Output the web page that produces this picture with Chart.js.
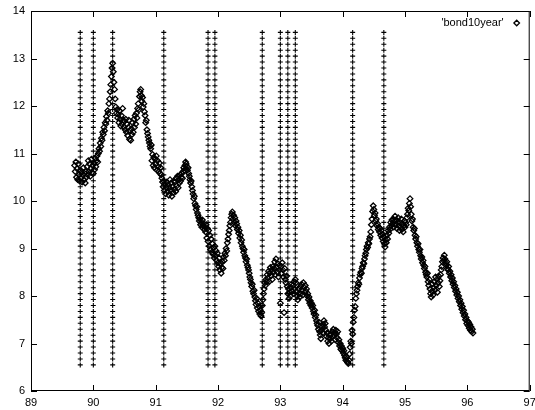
<!DOCTYPE html>
<html>
<head>
<meta charset="utf-8">
<script src="https://cdn.jsdelivr.net/npm/chart.js@4/dist/chart.umd.min.js"></script>
<style>
  html, body { margin: 0; padding: 0; background: #fff; }
  canvas { display: block; }
</style>
</head>
<body>
<canvas id="chart" width="535" height="410"></canvas>
<script>
// axis ticks
const xTicks = [89, 90, 91, 92, 93, 94, 95, 96, 97];
const yTicks = [6, 7, 8, 9, 10, 11, 12, 13, 14];

// dates of the vertical "+" marker columns, and the levels each column is drawn at
const eventDates = [89.79, 90.0, 90.31, 91.13, 91.84, 91.95, 92.71, 93.0, 93.12, 93.24, 94.16, 94.66];
const markerLevels = [6.55, 6.675, 6.8, 6.925, 7.05, 7.175, 7.3, 7.425, 7.55, 7.675, 7.8, 7.925,
  8.05, 8.175, 8.3, 8.425, 8.55, 8.675, 8.8, 8.925, 9.05, 9.175, 9.3, 9.425, 9.55, 9.675, 9.8, 9.925,
  10.05, 10.175, 10.3, 10.425, 10.55, 10.675, 10.8, 10.925, 11.05, 11.175, 11.3, 11.425, 11.55, 11.675,
  11.8, 11.925, 12.05, 12.175, 12.3, 12.425, 12.55, 12.675, 12.8, 12.925, 13.05, 13.175, 13.3, 13.425, 13.55];

// 'bond10year': one reading every 0.01 year from 89.70 (one row = 0.1 year)
const bondStart = 89.70;
const bondStep = 0.01;
const bondYields = [
  10.75,10.62,10.82,10.50,10.68,10.45,10.78,10.55,10.42,10.65,
  10.48,10.60,10.40,10.55,10.70,10.45,10.58,10.38,10.62,10.50,
  10.72,10.55,10.85,10.62,10.78,10.52,10.68,10.88,10.60,10.75,
  10.58,10.80,10.66,10.90,10.72,10.85,10.95,10.82,11.00,11.10,
  11.05,11.22,11.15,11.32,11.28,11.45,11.40,11.55,11.48,11.65,
  11.62,11.78,11.70,11.90,11.85,12.05,12.15,12.30,12.45,12.62,
  12.80,12.90,12.72,12.50,12.35,12.15,11.98,11.85,11.92,11.75,
  11.82,11.65,11.90,11.72,11.58,11.80,11.62,11.95,11.70,11.56,
  11.68,11.50,11.72,11.45,11.62,11.38,11.55,11.70,11.30,11.48,
  11.28,11.52,11.40,11.65,11.45,11.72,11.55,11.80,11.62,11.85,
  11.75,11.95,12.05,11.92,12.20,12.30,12.35,12.22,12.10,12.18,
  11.98,12.05,11.88,11.80,11.65,11.70,11.50,11.42,11.35,11.28,
  11.22,11.15,11.10,11.18,10.85,10.98,10.75,10.92,10.70,10.88,
  10.78,10.95,10.65,10.85,10.72,10.62,10.80,10.58,10.70,10.55,
  10.48,10.40,10.30,10.42,10.22,10.35,10.15,10.28,10.40,10.20,
  10.35,10.12,10.28,10.45,10.22,10.38,10.10,10.30,10.18,10.42,
  10.25,10.40,10.20,10.48,10.32,10.52,10.28,10.45,10.38,10.55,
  10.42,10.50,10.58,10.48,10.62,10.70,10.65,10.75,10.82,10.78,
  10.72,10.65,10.70,10.58,10.52,10.45,10.38,10.42,10.30,10.22,
  10.15,10.05,10.10,9.95,9.90,9.82,9.88,9.75,9.70,9.65,
  9.58,9.62,9.50,9.55,9.45,9.60,9.48,9.52,9.40,9.45,
  9.35,9.50,9.22,9.42,9.15,9.38,9.05,9.28,8.98,9.20,
  8.92,9.10,8.88,9.02,8.80,9.05,8.85,8.95,8.75,8.90,
  8.70,8.62,8.80,8.55,8.68,8.48,8.60,8.72,8.58,8.82,
  8.75,8.90,8.85,9.00,8.95,9.12,9.20,9.30,9.38,9.48,
  9.55,9.65,9.72,9.77,9.62,9.70,9.55,9.65,9.48,9.58,
  9.52,9.40,9.45,9.32,9.38,9.22,9.28,9.12,9.18,9.05,
  9.00,8.92,8.98,8.85,8.80,8.72,8.78,8.65,8.60,8.55,
  8.48,8.40,8.35,8.28,8.20,8.25,8.10,8.05,8.12,7.98,
  7.90,7.82,7.95,7.75,7.85,7.68,7.78,7.62,7.70,7.58,
  7.65,7.80,7.92,8.05,8.15,8.28,8.22,8.35,8.30,8.45,
  8.38,8.52,8.30,8.48,8.60,8.42,8.55,8.35,8.62,8.50,
  8.58,8.72,8.45,8.78,8.60,8.50,8.68,8.40,8.55,8.65,
  7.85,8.62,8.48,8.70,8.55,8.40,7.65,8.58,8.35,8.28,
  8.42,8.20,8.05,8.15,7.95,8.08,8.00,8.18,8.25,8.10,
  8.22,8.05,8.30,8.15,8.35,8.28,8.10,8.00,7.92,8.05,
  8.15,7.98,8.20,8.05,8.25,8.12,8.02,8.28,8.18,8.08,
  8.22,8.10,8.15,8.00,8.05,7.92,7.98,7.85,7.90,7.80,
  7.85,7.75,7.80,7.68,7.62,7.70,7.55,7.60,7.48,7.42,
  7.38,7.30,7.45,7.25,7.18,7.10,7.28,7.35,7.22,7.40,
  7.48,7.35,7.42,7.28,7.15,7.22,7.05,7.12,7.00,7.18,
  7.10,7.20,7.05,7.25,7.15,7.30,7.18,7.22,7.08,7.28,
  7.20,7.12,7.25,7.02,7.08,6.95,7.00,6.88,6.95,6.85,
  6.90,6.80,6.85,6.75,6.70,6.65,6.72,6.62,6.60,6.58,
  6.65,6.78,6.92,7.05,7.00,7.28,7.20,7.45,7.55,7.70,
  7.78,7.95,8.05,8.12,8.20,8.28,8.25,8.38,8.45,8.50,
  8.48,8.58,8.62,8.70,8.68,8.78,8.85,8.90,8.98,9.05,
  9.02,9.12,9.10,9.20,9.25,9.35,9.50,9.62,9.78,9.90,
  9.82,9.70,9.75,9.58,9.62,9.48,9.52,9.40,9.45,9.35,
  9.42,9.28,9.38,9.22,9.30,9.15,9.25,9.10,9.03,9.18,
  9.12,9.28,9.20,9.38,9.32,9.45,9.40,9.55,9.48,9.60,
  9.52,9.62,9.45,9.58,9.68,9.50,9.60,9.42,9.55,9.65,
  9.48,9.38,9.55,9.45,9.62,9.40,9.52,9.35,9.48,9.58,
  9.45,9.55,9.50,9.65,9.72,9.85,9.80,9.95,10.05,9.88,
  9.72,9.58,9.62,9.45,9.38,9.42,9.28,9.20,9.25,9.12,
  9.05,9.10,8.98,8.92,8.98,8.85,8.78,8.82,8.70,8.75,
  8.65,8.58,8.62,8.50,8.45,8.40,8.48,8.30,8.22,8.35,
  8.15,8.05,7.98,8.10,8.25,8.02,8.18,8.30,8.12,8.40,
  8.22,8.35,8.08,8.28,8.42,8.20,8.32,8.45,8.55,8.62,
  8.72,8.80,8.75,8.86,8.78,8.70,8.65,8.72,8.58,8.55,
  8.62,8.48,8.52,8.40,8.45,8.32,8.38,8.25,8.30,8.18,
  8.22,8.10,8.15,8.02,8.08,7.95,8.00,7.88,7.92,7.80,
  7.85,7.72,7.78,7.65,7.70,7.58,7.62,7.50,7.55,7.42,
  7.48,7.38,7.45,7.32,7.40,7.28,7.35,7.25,7.30,7.22
];

const bondPoints = bondYields.map((v, i) => ({ x: +(bondStart + i * bondStep).toFixed(2), y: v }));
const markerPoints = [];
eventDates.forEach(d => markerLevels.forEach(v => markerPoints.push({ x: d, y: v })));

const FONT = { family: '"Liberation Sans", Arial, sans-serif', size: 11 };

// gnuplot style box with inward ticks and the key at top right
const framePlugin = {
  id: 'frame',
  afterDatasetsDraw(chart) {
    const { ctx, chartArea: a, scales: { x, y } } = chart;
    ctx.save();
    ctx.strokeStyle = '#000';
    ctx.lineWidth = 1;
    ctx.strokeRect(a.left + 0.5, a.top + 0.5, a.right - a.left - 1, a.bottom - a.top - 1);
    ctx.beginPath();
    xTicks.forEach(t => {
      const px = Math.round(x.getPixelForValue(t)) + 0.5;
      ctx.moveTo(px, a.bottom); ctx.lineTo(px, a.bottom - 6);
      ctx.moveTo(px, a.top); ctx.lineTo(px, a.top + 6);
    });
    yTicks.forEach(t => {
      const py = Math.round(y.getPixelForValue(t)) + 0.5;
      ctx.moveTo(a.left, py); ctx.lineTo(a.left + 6, py);
      ctx.moveTo(a.right, py); ctx.lineTo(a.right - 6, py);
    });
    ctx.stroke();

    ctx.fillStyle = '#000';
    ctx.font = FONT.size + 'px ' + FONT.family;
    ctx.textAlign = 'right';
    ctx.textBaseline = 'middle';
    ctx.fillText("'bond10year'", a.right - 26, a.top + 12);
    ctx.fillStyle = 'rgba(0,0,0,0)';
    ctx.lineWidth = 1.3;
    Chart.helpers.drawPoint(ctx, { pointStyle: 'rectRot', radius: 2.8, borderWidth: 1.3 }, a.right - 13, a.top + 12);
    ctx.restore();
  }
};

new Chart(document.getElementById('chart'), {
  type: 'scatter',
  data: {
    datasets: [{
      label: "'bond10year'",
      data: bondPoints,
      pointStyle: 'rectRot',
      pointRadius: 2.8,
      borderWidth: 1.3,
      borderColor: '#000',
      backgroundColor: 'rgba(0,0,0,0)'
    }, {
      label: 'events',
      data: markerPoints,
      pointStyle: 'cross',
      pointRadius: 2.5,
      borderWidth: 1.1,
      borderColor: '#000',
      backgroundColor: '#000'
    }]
  },
  options: {
    responsive: false,
    animation: false,
    events: [],
    layout: { padding: { top: 11, right: 3, left: 0, bottom: 0 } },
    plugins: { legend: { display: false }, tooltip: { enabled: false } },
    scales: {
      x: {
        type: 'linear',
        min: 89, max: 97,
        grid: { display: false, drawTicks: false },
        border: { display: false },
        afterBuildTicks: s => { s.ticks = xTicks.map(v => ({ value: v })); },
        afterFit: s => { s.height = 19; s.paddingLeft = 0; s.paddingRight = 0; },
        ticks: { color: '#000', font: FONT, padding: 5, maxRotation: 0, autoSkip: false }
      },
      y: {
        min: 6, max: 14,
        grid: { display: false, drawTicks: false },
        border: { display: false },
        afterBuildTicks: s => { s.ticks = yTicks.map(v => ({ value: v })); },
        afterFit: s => { s.width = 31; s.paddingTop = 0; s.paddingBottom = 0; },
        ticks: { color: '#000', font: FONT, padding: 6 }
      }
    }
  },
  plugins: [framePlugin]
});
</script>
</body>
</html>
